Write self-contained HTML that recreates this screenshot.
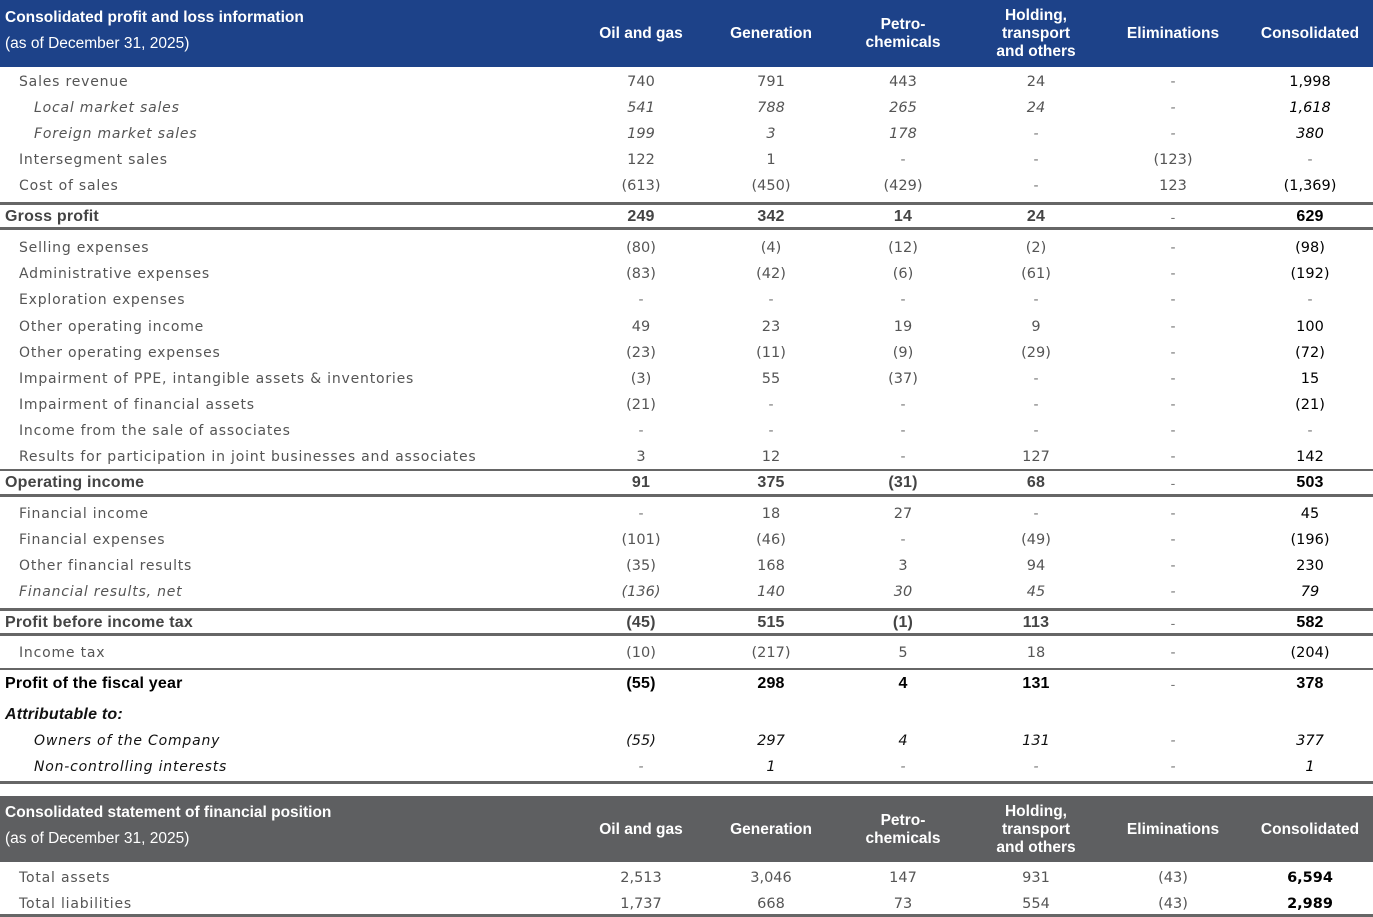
<!DOCTYPE html>
<html><head><meta charset="utf-8">
<style>
body{margin:0;width:1373px;height:917px;background:#fff;position:relative;overflow:hidden;font-family:"DejaVu Sans","Liberation Sans",sans-serif;}
.hdr{position:absolute;left:0;width:1373px;color:#fff;}
.hdr .t{position:absolute;left:5px;font:bold 15.5px "Liberation Sans",sans-serif;}
.hdr .s{position:absolute;left:5px;font:15.5px "Liberation Sans",sans-serif;}
.hc{position:absolute;transform:translate(-50%,-50%);text-align:center;font:bold 15.5px/18px "Liberation Sans",sans-serif;white-space:nowrap;color:#fff;}
.c{position:absolute;white-space:nowrap;transform:translate(-50%,-50%);font-size:14.5px;color:#555;}
.l{position:absolute;white-space:nowrap;transform:translateY(-50%);font-size:14px;color:#555;letter-spacing:0.8px;}
.line{position:absolute;left:0;width:1373px;background:#666;}
</style></head><body>
<div class="hdr" style="top:0;height:67px;background:#1d4289">
<div class="t" style="top:9px">Consolidated profit and loss information</div>
<div class="s" style="top:35px">(as of December 31, 2025)</div>
</div>
<div class="hdr" style="top:796px;height:66px;background:#5e5f61">
<div class="t" style="top:8px">Consolidated statement of financial position</div>
<div class="s" style="top:34px">(as of December 31, 2025)</div>
</div>
<div id="root"></div>
<script>
const colX=[641,771,903,1036,1173,1310];
const colNames=["Oil and gas","Generation","Petro-<br>chemicals","Holding,<br>transport<br>and others","Eliminations","Consolidated"];
const rows=[
["Sales revenue",81,"n",19,["740","791","443","24","-","1,998"]],
["Local market sales",107,"i",34,["541","788","265","24","-","1,618"]],
["Foreign market sales",133,"i",34,["199","3","178","-","-","380"]],
["Intersegment sales",159,"n",19,["122","1","-","-","(123)","-"]],
["Cost of sales",185,"n",19,["(613)","(450)","(429)","-","123","(1,369)"]],
["Gross profit",216,"b",5,["249","342","14","24","-","629"]],
["Selling expenses",247,"n",19,["(80)","(4)","(12)","(2)","-","(98)"]],
["Administrative expenses",273,"n",19,["(83)","(42)","(6)","(61)","-","(192)"]],
["Exploration expenses",299,"n",19,["-","-","-","-","-","-"]],
["Other operating income",326,"n",19,["49","23","19","9","-","100"]],
["Other operating expenses",352,"n",19,["(23)","(11)","(9)","(29)","-","(72)"]],
["Impairment of PPE, intangible assets & inventories",378,"n",19,["(3)","55","(37)","-","-","15"]],
["Impairment of financial assets",404,"n",19,["(21)","-","-","-","-","(21)"]],
["Income from the sale of associates",430,"n",19,["-","-","-","-","-","-"]],
["Results for participation in joint businesses and associates",456,"n",19,["3","12","-","127","-","142"]],
["Operating income",482,"b",5,["91","375","(31)","68","-","503"]],
["Financial income",513,"n",19,["-","18","27","-","-","45"]],
["Financial expenses",539,"n",19,["(101)","(46)","-","(49)","-","(196)"]],
["Other financial results",565,"n",19,["(35)","168","3","94","-","230"]],
["Financial results, net",591,"i",19,["(136)","140","30","45","-","79"]],
["Profit before income tax",622,"b",5,["(45)","515","(1)","113","-","582"]],
["Income tax",652,"n",19,["(10)","(217)","5","18","-","(204)"]],
["Profit of the fiscal year",683,"k",5,["(55)","298","4","131","-","378"]],
["Attributable to:",714,"bi",5,["","","","","",""]],
["Owners of the Company",740,"ik",34,["(55)","297","4","131","-","377"]],
["Non-controlling interests",766,"ik",34,["-","1","-","-","-","1"]],
["Total assets",877,"t",19,["2,513","3,046","147","931","(43)","6,594"]],
["Total liabilities",903,"t",19,["1,737","668","73","554","(43)","2,989"]]
];
const lineYs=[[202,3],[227,3],[469,2],[494,3],[608,3],[633,3],[668,2],[781,3],[914,3]];
const root=document.getElementById('root');
[34,830].forEach((hy,h)=>{colNames.forEach((n,i)=>{
 const d=document.createElement('div');d.className='hc';d.innerHTML=n;
 d.style.left=colX[i]+'px';d.style.top=hy+'px';
 
 
 root.appendChild(d);});});
lineYs.forEach(l=>{const d=document.createElement('div');d.className='line';
 d.style.top=l[0]+'px';d.style.height=l[1]+'px';
 
 
 root.appendChild(d);});
function bold(el,col){el.style.fontWeight='bold';el.style.fontFamily='"Liberation Sans",sans-serif';el.style.fontSize='16px';el.style.color=col;el.style.letterSpacing='0.2px';}
function sty(el,s,isLabel){
 if(s==='b')bold(el,'#444');
 if(s==='k')bold(el,'#000');
 if(s==='bi'){bold(el,'#111');el.style.fontStyle='italic';}
 if(s==='i')el.style.fontStyle='italic';
 if(s==='ik'){el.style.fontStyle='italic';el.style.color='#111';}
}
rows.forEach(r=>{
 const l=document.createElement('div');l.className='l';l.textContent=r[0];
 l.style.left=r[3]+'px';l.style.top=(r[1]+1)+'px';sty(l,r[2],true);
 
 
 root.appendChild(l);
 r[4].forEach((v,i)=>{if(v==='')return;
  const c=document.createElement('div');c.className='c';c.textContent=v;
  c.style.left=colX[i]+'px';c.style.top=(r[1]+1)+'px';sty(c,r[2],false);
  if(v==='-'){c.style.fontWeight='normal';c.style.color='#777';c.style.fontSize='14px';}
  else if(i===5){c.style.color='#000';if(r[2]==='t'){c.style.fontWeight='bold';}}
  
  
  root.appendChild(c);});
});
</script>
</body></html>
